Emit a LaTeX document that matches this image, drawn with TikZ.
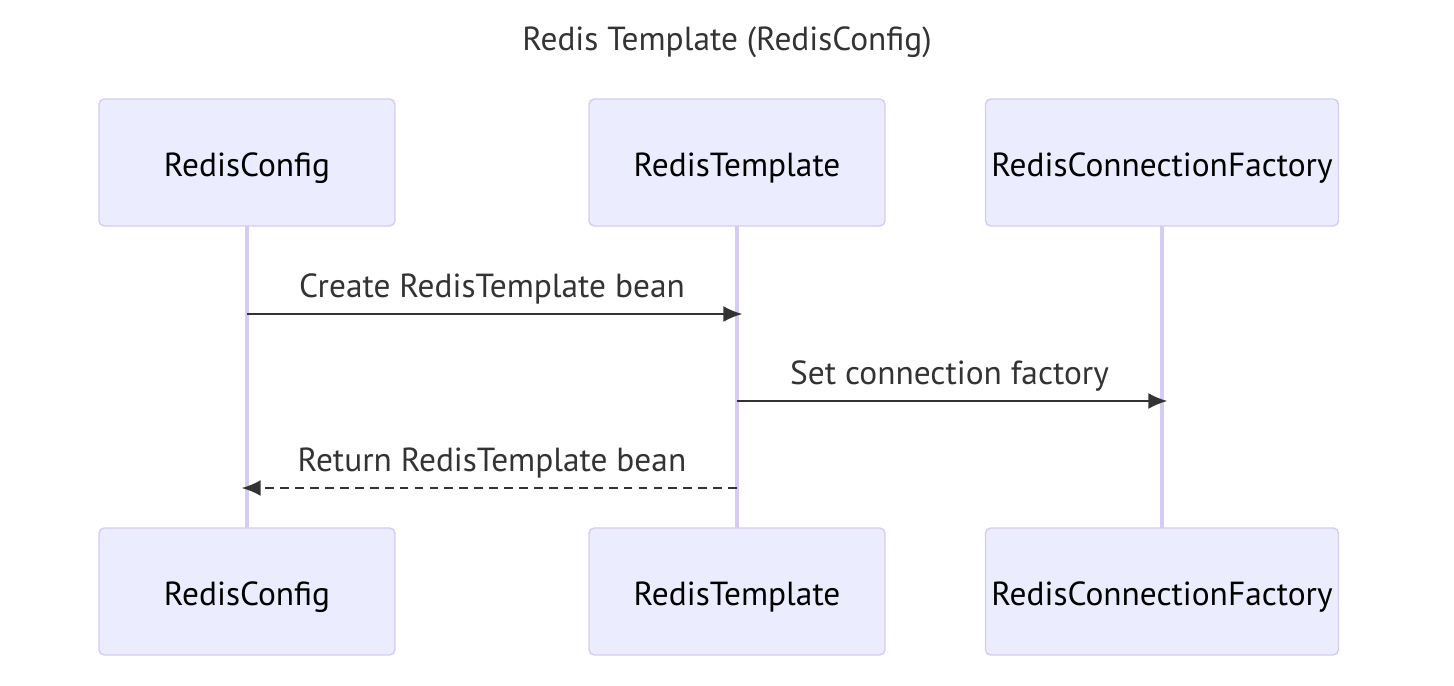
\documentclass[tikz,border=0pt]{standalone}
\usepackage{fontspec}
\setmainfont{PT Sans}
\usetikzlibrary{arrows.meta}
\definecolor{actorfill}{HTML}{ECECFF}
\definecolor{actorline}{HTML}{D6CBF3}
\definecolor{msgline}{HTML}{333333}
\begin{document}
\begin{tikzpicture}[x=0.02cm,y=-0.02cm,
  actor/.style={draw=actorline,fill=actorfill,line width=0.8pt,rounded corners=3pt,
    minimum height=2.54cm,inner sep=0pt,text height=16pt,text depth=0pt,
    font=\fontsize{19}{22}\selectfont},
  life/.style={draw=actorline,line width=2pt},
  msg/.style={draw=msgline,line width=1.1pt,-{Latex[length=0.38cm,width=0.32cm]}},
  lbl/.style={text=msgline,font=\fontsize{19}{22}\selectfont}]
  \useasboundingbox (0,0) rectangle (1454,686);
  \node[text=msgline,font=\fontsize{19}{22}\selectfont] (title) at (727,42) {Redis Template (RedisConfig)};
  % lifelines first, boxes on top
  \coordinate (l1) at (247,0);
  \coordinate (l2) at (737,0);
  \coordinate (l3) at (1162,0);
  \draw[life] (l1 |- 0,226) -- (l1 |- 0,528);
  \draw[life] (l2 |- 0,226) -- (l2 |- 0,528);
  \draw[life] (l3 |- 0,226) -- (l3 |- 0,528);
  \foreach \y/\p in {162.5/top,591.5/bot}{
    \node[actor,minimum width=5.92cm] (\p1) at (247,\y) {RedisConfig};
    \node[actor,minimum width=5.92cm] (\p2) at (737,\y) {RedisTemplate};
    \node[actor,minimum width=7.06cm] (\p3) at (1162,\y) {RedisConnectionFactory};
  }
  % messages
  \coordinate (m1) at (0,314);
  \coordinate (m2) at (0,401);
  \coordinate (m3) at (0,488);
  \draw[msg,shorten >=-3pt] (l1 |- m1) -- (l2 |- m1);
  \node[lbl] (t1) at (492,289) {Create RedisTemplate bean};
  \draw[msg,shorten >=-3pt] (l2 |- m2) -- (l3 |- m2);
  \node[lbl] (t2) at (949.5,376) {Set connection factory};
  \draw[msg,dashed,dash pattern=on 5pt off 3.5pt,shorten >=-3pt] (l2 |- m3) -- (l1 |- m3);
  \node[lbl] (t3) at (492,463) {Return RedisTemplate bean};
\end{tikzpicture}
\end{document}
